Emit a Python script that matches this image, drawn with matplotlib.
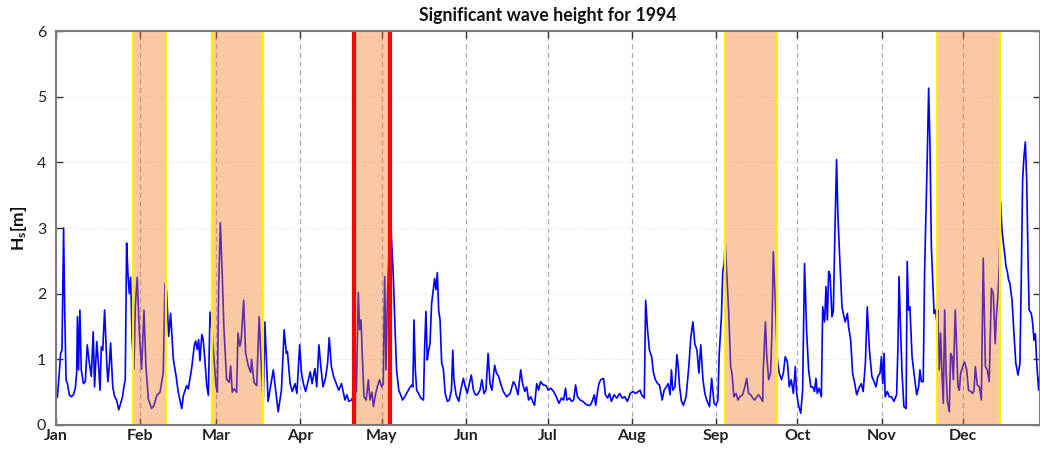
import matplotlib
matplotlib.use("Agg")
import matplotlib.pyplot as plt
import numpy as np

plt.rcParams['font.family'] = ['Lato', 'DejaVu Sans']
plt.rcParams['mathtext.fontset'] = 'custom'
plt.rcParams['mathtext.rm'] = 'Lato'
plt.rcParams['mathtext.bf'] = 'Lato:bold'

# ---- data: day of year (0 = 1 Jan 1994) and significant wave height [m]
day = [
    0.0, 0.5, 1.2, 1.7, 2.2, 2.8, 3.2, 3.7, 4.2, 4.9, 5.6, 6.4, 7.1, 7.6, 7.9, 8.3, 8.8, 9.3,
    10.1, 10.8, 11.5, 12.3, 13.0, 13.7, 14.2, 15.0, 15.7, 16.2, 16.7, 17.2, 17.9, 18.7, 19.1,
    19.6, 20.1, 20.9, 21.6, 22.3, 23.1, 23.8, 24.5, 25.0, 25.5, 26.0, 26.5, 27.0, 27.5, 28.0,
    28.7, 29.2, 29.9, 30.7, 31.5, 32.4, 33.1, 34.0, 35.2, 36.1, 37.1, 38.3, 39.5, 40.1, 40.7,
    41.5, 42.2, 43.2, 44.2, 45.0, 46.3, 46.9, 48.1, 48.7, 49.9, 50.9, 51.4, 52.0, 52.5, 53.0,
    53.7, 54.2, 54.8, 55.5, 56.1, 56.7, 57.4, 58.2, 58.9, 59.4, 59.9, 60.5, 61.2, 61.8, 62.8,
    63.8, 64.3, 64.9, 65.6, 66.5, 67.0, 67.7, 68.2, 69.1, 69.8, 70.8, 71.7, 72.0, 72.9, 73.9,
    74.8, 75.7, 76.3, 76.9, 78.1, 80.0, 81.8, 83.0, 84.0, 84.8, 85.2, 86.2, 87.0, 88.0, 88.7,
    89.7, 90.4, 91.1, 91.9, 92.6, 93.6, 94.3, 95.3, 96.0, 96.8, 97.5, 98.3, 99.2, 100.0, 100.6,
    101.4, 102.2, 103.2, 104.1, 105.1, 106.4, 107.1, 107.8, 108.8, 109.4, 110.6, 111.3, 111.8,
    112.3, 112.8, 113.4, 114.2, 115.0, 115.6, 116.3, 116.9, 117.6, 118.3, 119.1, 119.9, 120.5,
    121.0, 121.5, 122.0, 122.8, 123.4, 124.2, 124.8, 125.4, 126.2, 126.9, 127.6, 128.4, 129.1,
    130.1, 131.0, 131.4, 131.8, 132.3, 132.8, 133.5, 134.3, 135.3, 135.7, 136.2, 136.7, 137.2,
    137.7, 138.3, 138.9, 139.4, 139.9, 140.4, 140.9, 141.4, 142.0, 142.6, 143.3, 144.1, 144.8,
    145.6, 146.1, 146.5, 147.3, 148.3, 149.0, 150.0, 150.7, 151.4, 152.2, 152.9, 153.7, 154.4,
    155.1, 156.1, 156.8, 157.6, 158.3, 159.1, 159.8, 160.5, 161.5, 162.2, 163.0, 163.7, 164.7,
    165.9, 167.2, 168.4, 169.1, 170.1, 171.1, 171.8, 172.6, 173.3, 174.0, 174.8, 175.5, 176.2,
    177.0, 177.7, 178.4, 179.4, 180.4, 181.2, 182.2, 183.2, 184.2, 185.2, 186.1, 186.9, 187.6,
    188.1, 189.1, 189.8, 190.6, 191.3, 192.0, 193.0, 194.0, 194.7, 195.7, 196.7, 197.4, 198.2,
    198.7, 199.4, 199.9, 200.6, 201.6, 202.3, 203.1, 203.8, 204.5, 205.5, 206.5, 207.5, 208.5,
    209.4, 210.4, 211.4, 212.4, 213.4, 214.4, 215.1, 215.6, 216.6, 217.1, 217.8, 218.5, 219.3,
    220.0, 220.7, 221.5, 222.2, 223.2, 223.9, 224.7, 225.4, 226.1, 226.6, 227.1, 227.9, 228.6,
    229.1, 229.6, 230.3, 231.0, 232.0, 233.0, 233.7, 234.5, 235.2, 236.0, 236.7, 237.4, 238.2,
    238.9, 239.6, 240.6, 241.4, 242.3, 243.0, 243.7, 244.2, 245.0, 245.5, 246.0, 246.4, 246.9,
    247.7, 248.4, 248.9, 249.6, 250.4, 251.1, 251.8, 252.8, 253.6, 254.3, 255.0, 255.8, 256.5,
    257.2, 258.0, 258.7, 259.5, 260.2, 260.4, 261.2, 261.7, 262.4, 263.1, 263.6, 264.1, 264.9,
    265.6, 266.3, 267.1, 267.8, 268.5, 269.3, 270.0, 270.7, 271.5, 272.2, 272.7, 273.4, 274.2,
    274.9, 275.6, 276.4, 277.1, 277.9, 278.6, 279.3, 279.8, 280.3, 281.0, 281.8, 282.3, 283.0,
    283.5, 284.0, 284.5, 285.0, 285.7, 286.2, 286.9, 287.4, 287.9, 288.7, 289.4, 290.1, 290.6,
    291.4, 291.8, 292.6, 293.3, 294.1, 294.8, 295.8, 296.5, 297.2, 298.0, 298.7, 299.5, 300.4,
    301.2, 301.9, 302.6, 303.4, 303.9, 304.4, 304.9, 305.3, 306.1, 306.8, 307.6, 308.5, 309.5,
    310.0, 310.4, 311.0, 311.5, 312.2, 313.0, 313.4, 313.9, 314.4, 315.2, 315.9, 316.9, 317.6,
    318.1, 318.6, 319.3, 319.8, 320.3, 320.8, 321.3, 321.8, 322.3, 322.8, 323.3, 323.8, 324.2,
    324.7, 325.2, 325.7, 326.2, 326.7, 327.2, 327.7, 328.2, 328.9, 329.4, 329.9, 330.4, 331.1,
    331.6, 332.1, 332.6, 333.1, 333.8, 334.5, 335.3, 336.0, 336.8, 337.5, 338.0, 338.5, 339.2,
    340.0, 340.7, 341.4, 342.2, 342.9, 343.6, 344.4, 345.1, 345.8, 346.3, 346.8, 347.3, 347.8,
    348.3, 348.8, 349.3, 349.8, 350.3, 350.7, 351.2, 352.0, 352.7, 353.4, 354.2, 354.9, 355.4,
    355.9, 356.4, 356.9, 357.4, 357.9, 358.3, 359.1, 359.6, 360.1, 360.6, 361.1, 361.8, 362.3,
]
hs = [
    0.46, 0.42, 0.79, 1.09, 1.14, 3.00, 1.75, 0.69, 0.63, 0.46, 0.43, 0.46, 0.56, 0.79, 1.65, 0.84, 1.75, 0.84,
    0.63, 0.66, 1.22, 0.94, 0.74, 1.42, 0.58, 1.27, 0.89, 0.53, 1.19, 1.14, 1.75, 0.94, 0.66,
    0.89, 1.25, 0.58, 0.43, 0.38, 0.23, 0.33, 0.43, 0.58, 0.69, 2.77, 2.30, 2.00, 2.25, 1.30,
    0.85, 1.80, 2.25, 1.40, 0.85, 1.75, 0.90, 0.40, 0.25, 0.30, 0.45, 0.50, 0.80, 2.15, 2.05,
    1.35, 1.70, 1.00, 0.75, 0.50, 0.25, 0.45, 0.60, 0.55, 0.85, 1.20, 1.28, 1.15, 1.30, 0.98,
    1.38, 1.30, 1.00, 0.60, 0.45, 1.72, 1.45, 1.00, 0.60, 0.50, 2.10, 3.08, 2.30, 1.50, 0.70,
    0.65, 0.90, 0.50, 0.55, 0.50, 1.40, 1.20, 1.30, 1.90, 1.10, 0.90, 0.80, 1.00, 0.65, 0.60,
    1.65, 0.80, 0.35, 1.57, 0.36, 0.84, 0.20, 0.53, 1.45, 1.09, 1.12, 0.63, 0.51, 0.63, 0.48,
    1.22, 0.79, 0.63, 0.51, 0.63, 0.81, 0.63, 0.86, 0.58, 1.22, 0.89, 0.58, 0.71, 0.94, 1.33,
    0.89, 0.74, 0.63, 0.53, 0.63, 0.38, 0.46, 0.36, 0.38, 0.43, 0.51, 2.02, 1.45,
    1.60, 1.04, 0.43, 0.38, 0.69, 0.38, 0.50, 0.28, 0.46, 0.58, 0.69, 0.58, 0.63,
    2.26, 0.84, 1.90, 2.92, 2.95, 2.26, 1.50, 0.84, 0.53, 0.46, 0.38, 0.43, 0.48,
    0.56, 0.61, 0.58, 1.60, 0.84, 0.53, 0.48, 0.41, 0.38, 1.14, 1.73, 0.99, 1.14,
    1.24, 1.85, 2.06, 2.23, 2.06, 2.32, 1.75, 1.60, 0.94, 0.86, 0.48, 0.36, 0.38,
    0.53, 1.14, 0.69, 0.46, 0.36, 0.53, 0.71, 0.58, 0.48, 0.63, 0.76, 0.53, 0.46,
    0.46, 0.53, 0.69, 0.48, 0.53, 1.09, 0.63, 0.53, 0.91, 0.79, 0.74, 0.63, 0.51,
    0.43, 0.48, 0.66, 0.61, 0.46, 0.84, 0.63, 0.51, 0.58, 0.38, 0.43, 0.36, 0.30,
    0.63, 0.53, 0.66, 0.61, 0.60, 0.53, 0.56, 0.51, 0.43, 0.33, 0.41, 0.38, 0.56,
    0.38, 0.41, 0.36, 0.38, 0.61, 0.43, 0.38, 0.36, 0.33, 0.30, 0.30, 0.36, 0.46,
    0.30, 0.51, 0.63, 0.69, 0.71, 0.46, 0.41, 0.48, 0.36, 0.46, 0.41, 0.48, 0.41,
    0.43, 0.36, 0.48, 0.51, 0.48, 0.51, 0.53, 0.46, 0.41, 1.90, 1.45, 1.14, 1.04,
    0.79, 0.69, 0.63, 0.61, 0.38, 0.53, 0.58, 0.63, 0.46, 0.84, 0.53, 0.58, 1.07,
    0.89, 0.58, 0.36, 0.30, 0.43, 0.89, 1.32, 1.57, 1.24, 1.14, 0.79, 1.22, 0.69,
    0.48, 0.38, 0.28, 0.71, 0.33, 0.30, 0.38, 1.09, 1.65, 2.34, 2.46, 2.79, 2.36,
    1.70, 0.89, 0.79, 0.43, 0.48, 0.38, 0.43, 0.46, 0.58, 0.71, 0.48, 0.46, 0.41,
    0.38, 0.43, 0.46, 0.41, 0.36, 0.84, 1.57, 1.04, 0.69, 0.79, 1.40, 2.64, 1.80,
    0.99, 0.79, 0.69, 0.79, 1.04, 0.96, 0.58, 0.69, 0.48, 0.89, 0.48, 0.30, 0.18,
    0.53, 2.46, 1.40, 0.84, 0.58, 0.58, 0.51, 0.71, 0.48, 0.56, 0.43, 1.80, 1.57,
    2.11, 1.60, 2.34, 2.29, 1.65, 1.73, 3.15, 4.04, 3.17, 2.41, 1.80, 1.65, 1.57,
    1.70, 1.50, 1.29, 0.79, 0.63, 0.46, 0.58, 0.63, 0.51, 0.94, 1.80, 1.14, 0.74,
    0.66, 0.58, 0.74, 0.79, 1.04, 0.63, 1.09, 0.43, 0.51, 0.43, 0.43, 0.36, 0.46,
    1.19, 2.26, 1.40, 0.79, 0.28, 0.25, 2.49, 1.75, 1.80, 1.04, 0.79, 0.46, 0.58,
    0.84, 0.66, 0.66, 2.31, 3.22, 4.09, 5.13, 4.24, 2.72, 2.21, 1.70, 1.75, 1.60,
    1.75, 0.84, 1.40, 0.79, 0.33, 1.75, 0.84, 0.36, 0.20, 1.09, 1.04, 0.69, 1.75,
    1.19, 0.58, 0.53, 0.79, 0.89, 0.96, 0.84, 0.53, 0.51, 0.48, 0.53, 0.89, 0.61,
    0.58, 0.38, 2.54, 0.89, 0.84, 0.66, 2.08, 2.00, 1.24, 1.70, 1.95, 2.44, 3.40,
    2.97, 2.77, 2.61, 2.41, 2.33, 2.21, 2.16, 1.90, 1.40, 0.94, 0.76, 0.94, 2.21,
    3.73, 4.09, 4.31, 3.73, 2.51, 1.75, 1.70, 1.55, 1.29, 1.39, 0.94, 0.53, 0.80,
]

# highlighted windows (day of year)
win_start = [28.2, 57.4, 109.8, 246.4, 324.5]
win_end = [40.4, 76.3, 123.0, 265.6, 347.6]
win_edge = ['#FFEE00', '#FFEE00', '#FF0000', '#FFEE00', '#FFEE00']

month_days = [0, 31, 59, 90, 120, 151, 181, 212, 243, 273, 304, 334]
month_labels = ['Jan', 'Feb', 'Mar', 'Apr', 'May', 'Jun', 'Jul', 'Aug', 'Sep', 'Oct', 'Nov', 'Dec']
y_ticks = [0, 1, 2, 3, 4, 5, 6]

fig = plt.figure(figsize=(10.40, 4.49), dpi=100)
ax = fig.add_axes([56 / 1040, 24 / 449, 984 / 1040, 394 / 449])

# grids
for m in month_days[1:]:
    ax.axvline(m, color='#ababab', lw=0.9, ls=(0, (4, 3)), zorder=1)
for v in y_ticks[1:-1]:
    ax.axhline(v, color='#e2e2e2', lw=0.8, ls=':', zorder=1)

ax.plot(day, hs, color='#0000FF', lw=1.2, zorder=2)

for s, e, c in zip(win_start, win_end, win_edge):
    ax.axvspan(s, e, facecolor='#F27620', alpha=0.4, lw=0, zorder=3)
    lw = 3.0 if c == '#FF0000' else 1.6
    ax.axvline(s, color=c, lw=lw, zorder=4)
    ax.axvline(e, color=c, lw=lw, zorder=4)

ax.set_xlim(0, 362.3)
ax.set_ylim(0, 6)
ax.set_xticks(month_days)
ax.set_xticklabels(month_labels, fontweight='bold')
ax.set_yticks(y_ticks)
ax.tick_params(axis='both', direction='in', length=5, width=1, colors='#333333',
               top=True, right=True, labelsize=11.5, labelcolor='#222222')
ax.tick_params(axis='x', pad=3)
ax.tick_params(axis='y', pad=7)
for sp in ax.spines.values():
    sp.set_color('#7a7a7a')
    sp.set_linewidth(1.5)
    sp.set_zorder(5)

ax.set_title('Significant wave height for 1994', fontsize=12.8, fontweight='bold',
             color='#111111', pad=7)
ax.set_ylabel(r'$\mathbf{H_s[m]}$', fontsize=12.5, color='#111111', labelpad=6)

fig.savefig('out.png', dpi=100)
